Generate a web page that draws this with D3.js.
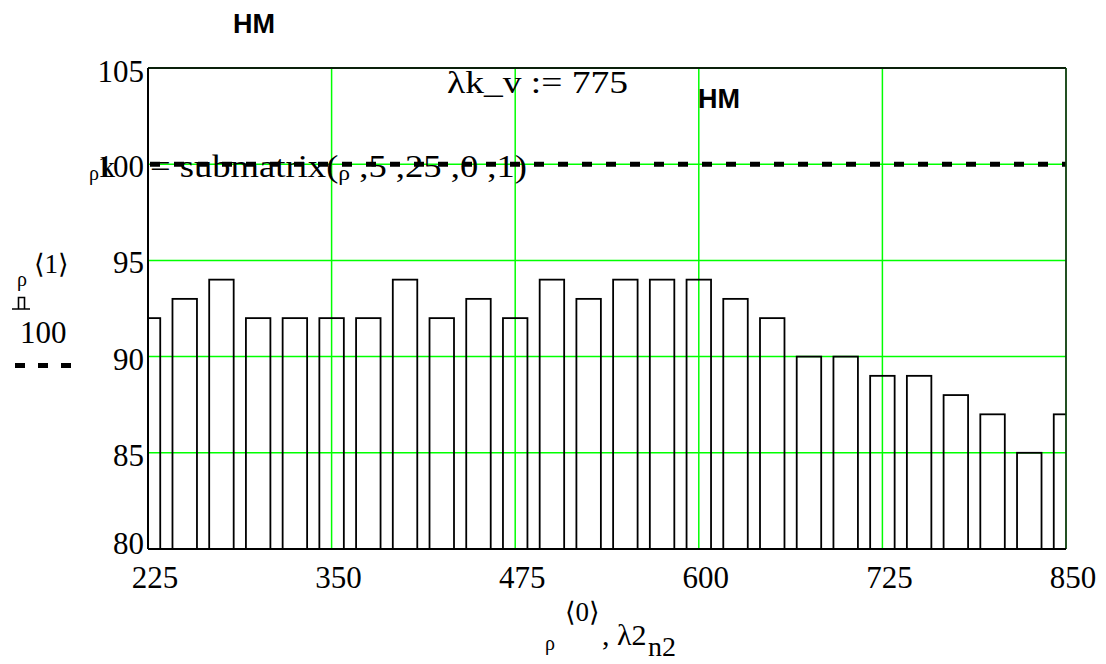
<!DOCTYPE html>
<html>
<head>
<meta charset="utf-8">
<style>
  body { margin: 0; background: #fff; }
  text { font-family: "Liberation Serif", "DejaVu Serif", "DejaVu Sans", serif; fill: #000; }
  .hm { font-family: "Liberation Sans", Arial, sans-serif; font-weight: bold; }
</style>
</head>
<body>
<div id="chart"></div>
<script src="https://cdnjs.cloudflare.com/ajax/libs/d3/7.8.5/d3.min.js"></script>
<script>
  // wavelength column (rho<0>)
  const lambda = [225, 250, 275, 300, 325, 350, 375, 400, 425, 450, 475, 500, 525,
                  550, 575, 600, 625, 650, 675, 700, 725, 750, 775, 800, 825, 850];
  // value column (rho<1>)
  const rho1 = [92, 93, 94, 92, 92, 92, 92, 94, 92, 93, 92, 94, 93,
                94, 94, 94, 93, 92, 90, 90, 89, 89, 88, 87, 85, 87];
  const xTicks = [225, 350, 475, 600, 725, 850];
  const yTicks = [80, 85, 90, 95, 100, 105];
  const refLevel = 100;
  const barSpan = 50 / 3; // bar width in x units

  const margin = { top: 68, right: 40, bottom: 115, left: 148 };
  const width = 1106 - margin.left - margin.right;
  const height = 664 - margin.top - margin.bottom;
  const green = "#00ff00";

  const svg = d3.select("#chart")
    .append("svg")
    .attr("width", 1106)
    .attr("height", 664);

  const g = svg.append("g")
    .attr("transform", "translate(" + margin.left + "," + margin.top + ")");

  const x = d3.scaleLinear().domain([225, 850]).range([0, width]);
  const y = d3.scaleLinear().domain([80, 105]).range([height, 0]);

  g.append("clipPath").attr("id", "plot-clip")
    .append("rect").attr("width", width).attr("height", height);

  // grid
  g.selectAll(".vgrid")
    .data(xTicks.slice(1, -1))
    .enter().append("line")
    .attr("x1", d => x(d)).attr("x2", d => x(d))
    .attr("y1", 0).attr("y2", height)
    .attr("stroke", green).attr("stroke-width", 1.5);

  g.selectAll(".hgrid")
    .data(yTicks.slice(1, -1))
    .enter().append("line")
    .attr("x1", 0).attr("x2", width)
    .attr("y1", d => y(d)).attr("y2", d => y(d))
    .attr("stroke", green).attr("stroke-width", 1.5);

  // bars
  g.append("g")
    .attr("clip-path", "url(#plot-clip)")
    .selectAll("rect")
    .data(lambda)
    .enter().append("rect")
    .attr("x", d => x(d - barSpan / 2))
    .attr("width", x(225 + barSpan) - x(225))
    .attr("y", (d, i) => y(rho1[i]))
    .attr("height", (d, i) => y(80) - y(rho1[i]))
    .attr("fill", "none")
    .attr("stroke", "#000")
    .attr("stroke-width", 1.8);

  // reference trace at 100
  g.append("line")
    .attr("x1", x(225) + 2).attr("x2", x(850))
    .attr("y1", y(refLevel)).attr("y2", y(refLevel))
    .attr("stroke", "#000").attr("stroke-width", 5)
    .attr("stroke-dasharray", "10,14");

  // frame
  g.append("line").attr("x1", 0).attr("x2", width).attr("y1", 0).attr("y2", 0)
    .attr("stroke", "#0a200a").attr("stroke-width", 1.8);
  g.append("line").attr("x1", width).attr("x2", width).attr("y1", 0).attr("y2", height)
    .attr("stroke", "#0b3d0b").attr("stroke-width", 1.8);
  g.append("line").attr("x1", 0).attr("x2", 0).attr("y1", 0).attr("y2", height)
    .attr("stroke", "#000").attr("stroke-width", 2);
  g.append("line").attr("x1", 0).attr("x2", width).attr("y1", height).attr("y2", height)
    .attr("stroke", "#000").attr("stroke-width", 2);

  // tick labels
  g.selectAll(".xlab")
    .data(xTicks)
    .enter().append("text")
    .attr("x", d => x(d) + 7)
    .attr("y", height + 39)
    .attr("text-anchor", "middle")
    .style("font-size", "31px")
    .text(d => d);

  g.selectAll(".ylab")
    .data(yTicks)
    .enter().append("text")
    .attr("x", -4)
    .attr("y", d => y(d) + (d === 80 ? 5 : d === 105 ? 14 : 13))
    .attr("text-anchor", "end")
    .style("font-size", "31px")
    .text(d => d);

  // annotations
  svg.append("text").attr("class", "hm")
    .attr("x", 233).attr("y", 33)
    .style("font-size", "27px").text("HM");
  svg.append("text").attr("class", "hm")
    .attr("x", 698).attr("y", 108)
    .style("font-size", "27px").text("HM");

  svg.append("text")
    .attr("x", 447).attr("y", 93)
    .attr("textLength", 181).attr("lengthAdjust", "spacingAndGlyphs")
    .style("font-size", "31px")
    .text("λk_v  := 775");

  svg.append("text")
    .attr("x", 89).attr("y", 180)
    .style("font-size", "20px").text("ρ");
  svg.append("text")
    .attr("x", 100).attr("y", 177)
    .style("font-size", "30px").text("k");

  const sub = svg.append("text")
    .attr("x", 150).attr("y", 177)
    .attr("textLength", 377).attr("lengthAdjust", "spacingAndGlyphs")
    .style("font-size", "31px");
  sub.append("tspan").text("= submatrix(");
  sub.append("tspan").style("font-size", "20px").attr("dy", 3).text("ρ");
  sub.append("tspan").attr("dy", -3).text(" ,5 ,25 ,0 ,1)");

  // y axis title / legend
  svg.append("text").attr("x", 17).attr("y", 286).style("font-size", "20px").text("ρ");
  svg.append("text").attr("x", 34).attr("y", 273).style("font-size", "27px").text("⟨1⟩");
  svg.append("path")
    .attr("d", "M12,309H30M18.5,309V297.5H24.5V309")
    .attr("fill", "none").attr("stroke", "#000").attr("stroke-width", 1.6);
  svg.append("text").attr("x", 20).attr("y", 343).style("font-size", "31px").text(refLevel);
  svg.append("line")
    .attr("x1", 15).attr("x2", 73).attr("y1", 365.5).attr("y2", 365.5)
    .attr("stroke", "#000").attr("stroke-width", 5)
    .attr("stroke-dasharray", "10,13");

  // x axis title
  svg.append("text").attr("x", 545).attr("y", 650).style("font-size", "20px").text("ρ");
  svg.append("text").attr("x", 565).attr("y", 621).style("font-size", "27px").text("⟨0⟩");
  svg.append("text").attr("x", 602).attr("y", 645).style("font-size", "30px").text(", λ2");
  svg.append("text").attr("x", 648).attr("y", 656).style("font-size", "28px").text("n2");
</script>
</body>
</html>
